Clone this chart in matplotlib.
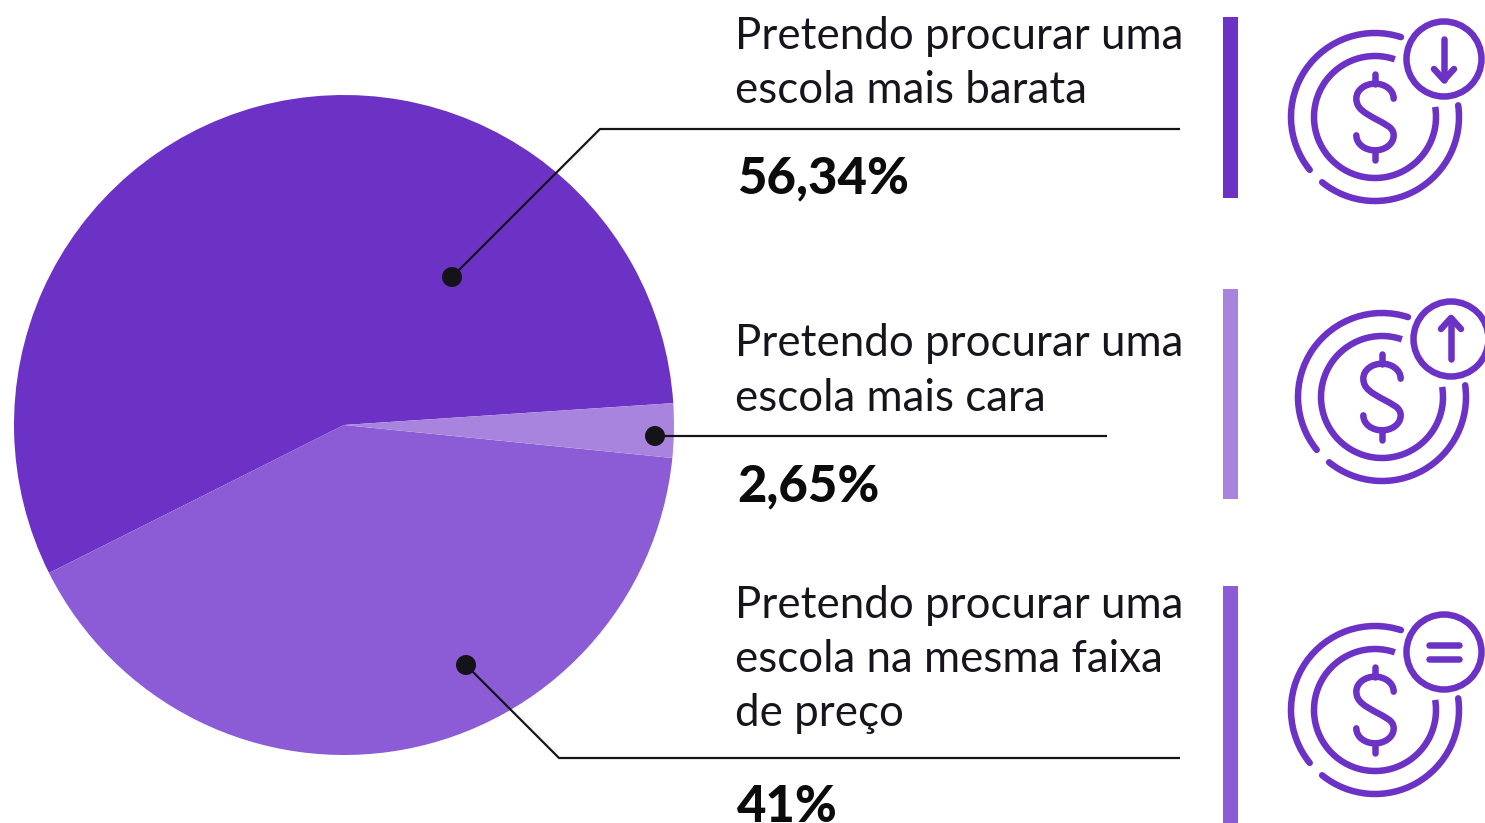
import matplotlib
matplotlib.use("Agg")
import matplotlib.pyplot as plt
from matplotlib.patches import Arc, Circle, Rectangle, PathPatch
from matplotlib.path import Path

W, H = 1485, 823
# data
shares = [56.34, 41.0, 2.65]
colors = ["#6C32C6", "#8B5CD5", "#A884DF"]
value_labels = ["56,34%", "2,65%", "41%"]
labels = [
    ["Pretendo procurar uma", "escola mais barata"],
    ["Pretendo procurar uma", "escola mais cara"],
    ["Pretendo procurar uma", "escola na mesma faixa", "de preço"],
]
ICON = "#6C32C6"
DARK = "#15131A"
FONT = "Lato"
BOLD = "Lato"

fig = plt.figure(figsize=(W / 100, H / 100), dpi=100, facecolor="white")
ax = fig.add_axes([0, 0, 1, 1])
ax.set_xlim(0, W)
ax.set_ylim(0, H)
ax.set_aspect("equal")
ax.axis("off")
Y = lambda y: H - y

ax.pie(shares, colors=colors, startangle=3.8, counterclock=True, radius=330,
       center=(344, Y(425)), frame=True, wedgeprops={"linewidth": 0})
ax.set_xlim(0, W)
ax.set_ylim(0, H)
ax.axis("off")

px = 72 / 100  # points per pixel


def leader(pts):
    ax.plot([p[0] for p in pts], [Y(p[1]) for p in pts], color=DARK, lw=2.2 * px,
            solid_joinstyle="miter", solid_capstyle="butt", zorder=4)
    ax.add_patch(Circle((pts[0][0], Y(pts[0][1])), 10, color=DARK, lw=0, zorder=5))


leader([(452, 277), (600, 129), (1180, 129)])
leader([(655, 436), (1107, 436)])
leader([(466, 665), (559, 758), (1180, 758)])

label_baselines = [[49, 103], [356, 411], [618, 672, 726]]
value_baselines = [193, 501, 822]
for lines, bases, val, vb in zip(labels, label_baselines, value_labels, value_baselines):
    for s, b in zip(lines, bases):
        ax.text(735, Y(b), s, fontsize=31.6, family=FONT, weight="normal", color="#17141C",
                va="baseline", ha="left")
    ax.text(737, Y(vb), val, fontsize=36.5, family=BOLD, weight="black", color="#0B0B0B",
            va="baseline", ha="left")

bars = [(17, 198, colors[0]), (289, 499, colors[2]), (586, 823, colors[1])]
for top, bot, c in bars:
    ax.add_patch(Rectangle((1223, Y(bot)), 15, bot - top, color=c, lw=0))

LW = 6.5 * px


def draw_path(pts, codes):
    v = [(x, Y(y)) for x, y in pts]
    ax.add_patch(PathPatch(Path(v, codes), fill=False, ec=ICON, lw=LW, capstyle="round", joinstyle="round"))


def icon(cx, cy, sx, sy, kind):
    c = (cx, Y(cy))
    ax.add_patch(Arc(c, 168, 168, theta1=72, theta2=219, ec=ICON, lw=LW, capstyle="round"))
    ax.add_patch(Arc(c, 168, 168, theta1=231, theta2=368, ec=ICON, lw=LW, capstyle="round"))
    ax.add_patch(Arc(c, 122, 122, theta1=71, theta2=369.5, ec=ICON, lw=LW, capstyle="butt"))
    ax.add_patch(Circle((sx, Y(sy)), 37.5, fc="none", ec=ICON, lw=LW))
    # dollar sign
    z = lambda a, b: (cx + a / 3, cy + b / 3)
    pts = [z(56, -55), z(56, -82), z(29, -100), z(0, -100), z(-29, -100), z(-56, -82), z(-56, -55),
           z(-56, -25), z(-30, -12), z(0, 5), z(30, 22), z(56, 30), z(56, 55),
           z(56, 82), z(29, 100), z(0, 100), z(-29, 100), z(-56, 82), z(-56, 55)]
    codes = [Path.MOVETO] + [Path.CURVE4] * 18
    draw_path(pts, codes)
    draw_path([z(0, -128), z(0, -100)], None)
    draw_path([z(0, 100), z(0, 128)], None)
    if kind == "down":
        draw_path([(sx, sy - 20), (sx, sy + 21)], None)
        draw_path([(sx - 10, sy + 10), (sx, sy + 21), (sx + 10, sy + 10)], None)
    elif kind == "up":
        draw_path([(sx, sy + 20), (sx, sy - 21)], None)
        draw_path([(sx - 10, sy - 10), (sx, sy - 21), (sx + 10, sy - 10)], None)
    else:
        draw_path([(sx - 15, sy - 7), (sx + 15, sy - 7)], None)
        draw_path([(sx - 15, sy + 7), (sx + 15, sy + 7)], None)


icon(1375, 117, 1444, 59, "down")
icon(1382, 397, 1451, 339, "up")
icon(1375, 710, 1444, 652, "equal")

fig.savefig("out.png", dpi=100, facecolor="white")
